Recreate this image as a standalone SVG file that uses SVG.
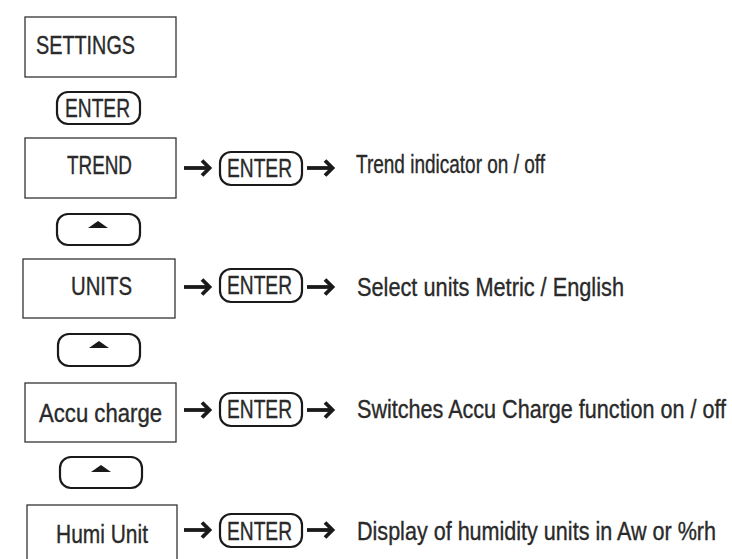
<svg xmlns="http://www.w3.org/2000/svg" width="732" height="559" viewBox="0 0 732 559">
<style>
.box{fill:#fff;stroke:#333;stroke-width:1.3}
.btn{fill:#fff;stroke:#1a1a1a;stroke-width:2.2}
.t{font-family:"Liberation Sans","DejaVu Sans",Arial,sans-serif;font-size:25px;fill:#2a2a2a;stroke:#2a2a2a;stroke-width:0.35}
.tri{fill:#1a1a1a}
.arr{fill:none;stroke:#1a1a1a;stroke-width:3.8;stroke-linecap:butt;stroke-linejoin:miter}
</style>
<defs>
<g id="arrow">
<path class="arr" d="M0 0 H23"/>
<path class="arr" d="M18 -7.5 L25.5 0 L18 7.5"/>
</g>
<g id="enterBtn">
<rect class="btn" x="0" y="0" width="82" height="33" rx="11" ry="11"/>
</g>
</defs>

<g id="settings">
<rect class="box" x="25" y="17" width="151" height="60"/>
<text class="t" x="36" y="54" textLength="99" lengthAdjust="spacingAndGlyphs">SETTINGS</text>
</g>

<g id="enter-main">
<rect class="btn" x="57" y="92" width="83" height="32" rx="11" ry="11"/>
<text class="t" x="65" y="117" textLength="65" lengthAdjust="spacingAndGlyphs">ENTER</text>
</g>

<g id="trend">
<rect class="box" x="25" y="138" width="151" height="60"/>
<text class="t" x="67" y="174" textLength="65" lengthAdjust="spacingAndGlyphs">TREND</text>
</g>

<g id="up1">
<rect class="btn" x="57" y="214" width="83" height="31" rx="11" ry="11"/>
<path class="tri" d="M88 228 L98 221 L108 228 Z"/>
</g>

<g id="units">
<rect class="box" x="23" y="259" width="152" height="59"/>
<text class="t" x="71" y="295" textLength="61" lengthAdjust="spacingAndGlyphs">UNITS</text>
</g>

<g id="up2">
<rect class="btn" x="58" y="334" width="82" height="32" rx="11" ry="11"/>
<path class="tri" d="M89 348 L99 341 L109 348 Z"/>
</g>

<g id="accu">
<rect class="box" x="25" y="383" width="151" height="59"/>
<text class="t" x="39" y="422" textLength="123" lengthAdjust="spacingAndGlyphs">Accu charge</text>
</g>

<g id="up3">
<rect class="btn" x="60" y="457" width="82" height="31" rx="11" ry="11"/>
<path class="tri" d="M91 472 L101 465 L111 472 Z"/>
</g>

<g id="humi">
<rect class="box" x="27" y="505" width="150" height="62"/>
<text class="t" x="56" y="543" textLength="92" lengthAdjust="spacingAndGlyphs">Humi Unit</text>
</g>

<g id="enter-trend">
<use href="#enterBtn" x="220" y="152"/>
<text class="t" x="227" y="177" textLength="65" lengthAdjust="spacingAndGlyphs">ENTER</text>
</g>
<g id="enter-units">
<use href="#enterBtn" x="220" y="269"/>
<text class="t" x="227" y="294" textLength="65" lengthAdjust="spacingAndGlyphs">ENTER</text>
</g>
<g id="enter-accu">
<use href="#enterBtn" x="220" y="393"/>
<text class="t" x="227" y="418" textLength="65" lengthAdjust="spacingAndGlyphs">ENTER</text>
</g>
<g id="enter-humi">
<use href="#enterBtn" x="220" y="514"/>
<text class="t" x="227" y="540" textLength="65" lengthAdjust="spacingAndGlyphs">ENTER</text>
</g>

<g id="desc-trend"><text class="t" x="356" y="173" textLength="189" lengthAdjust="spacingAndGlyphs">Trend indicator on / off</text></g>
<g id="desc-units"><text class="t" x="357" y="296" textLength="267" lengthAdjust="spacingAndGlyphs">Select units Metric / English</text></g>
<g id="desc-accu"><text class="t" x="357" y="418" textLength="369" lengthAdjust="spacingAndGlyphs">Switches Accu Charge function on / off</text></g>
<g id="desc-humi"><text class="t" x="357" y="540" textLength="359" lengthAdjust="spacingAndGlyphs">Display of humidity units in Aw or %rh</text></g>

<g id="connectors">
<use href="#arrow" x="184" y="168"/>
<use href="#arrow" x="307" y="168"/>
<use href="#arrow" x="184" y="287"/>
<use href="#arrow" x="307" y="287"/>
<use href="#arrow" x="184" y="410"/>
<use href="#arrow" x="307" y="410"/>
<use href="#arrow" x="184" y="530"/>
<use href="#arrow" x="307" y="530"/>
</g>
</svg>
